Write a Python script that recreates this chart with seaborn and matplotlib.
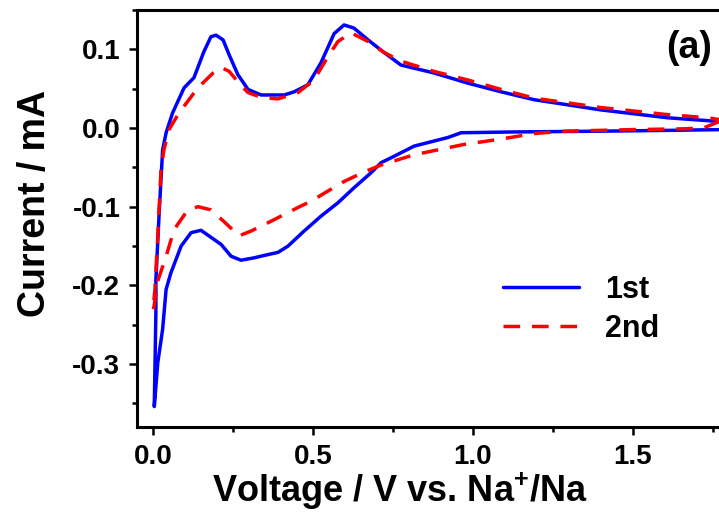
import pandas as pd
import matplotlib
matplotlib.use("Agg")
import matplotlib.pyplot as plt
import numpy as np
import seaborn as sns
from matplotlib.ticker import MultipleLocator

# 1st cycle: cathodic scan (right to left), then anodic scan (left to right)
v1 = [1.78, 1.609, 1.400, 1.128, 0.963, 0.922, 0.816, 0.753, 0.713, 0.681, 0.628,
      0.578, 0.525, 0.472, 0.422, 0.391, 0.347, 0.316, 0.275, 0.244, 0.213, 0.150,
      0.119, 0.088, 0.056, 0.041, 0.030, 0.015, 0.004,
      0.009, 0.009, 0.019, 0.030, 0.041, 0.061, 0.097, 0.128, 0.159, 0.181, 0.197,
      0.219, 0.238, 0.265, 0.297, 0.338, 0.410, 0.441, 0.484, 0.525, 0.566, 0.597,
      0.628, 0.672, 0.722, 0.775, 0.878, 0.984, 1.088, 1.191, 1.400, 1.609, 1.78]
i1 = [-0.002, -0.003, -0.004, -0.005, -0.006, -0.012, -0.023, -0.036, -0.044, -0.057, -0.076,
      -0.095, -0.112, -0.131, -0.150, -0.158, -0.162, -0.165, -0.168, -0.163, -0.148, -0.130,
      -0.133, -0.150, -0.184, -0.205, -0.256, -0.298, -0.354,
      -0.235, -0.193, -0.110, -0.028, -0.006, 0.019, 0.051, 0.064, 0.097, 0.116, 0.118,
      0.112, 0.093, 0.068, 0.049, 0.042, 0.042, 0.046, 0.055, 0.083, 0.120, 0.131,
      0.127, 0.112, 0.096, 0.080, 0.070, 0.057, 0.046, 0.036, 0.023, 0.013, 0.008]

# 2nd cycle
v2 = [1.78, 1.72, 1.66, 1.50, 1.29, 1.19, 1.088, 0.97, 0.816, 0.713, 0.659, 0.597,
      0.547, 0.494, 0.453, 0.400, 0.347, 0.306, 0.269, 0.222, 0.181, 0.141, 0.109,
      0.066, 0.041, 0.016, 0.003, 0.0,
      0.006, 0.016, 0.025, 0.034, 0.050, 0.081, 0.140, 0.188, 0.213, 0.238, 0.269,
      0.297, 0.338, 0.390, 0.453, 0.503, 0.547, 0.578, 0.619, 0.672, 0.722, 0.775,
      0.878, 0.984, 1.088, 1.191, 1.400, 1.609, 1.734, 1.78]
i2 = [0.010, 0.000, -0.001, -0.002, -0.004, -0.007, -0.014, -0.021, -0.034, -0.047, -0.056, -0.068,
      -0.080, -0.093, -0.101, -0.112, -0.123, -0.131, -0.137, -0.119, -0.104, -0.100, -0.104,
      -0.129, -0.163, -0.193, -0.227, -0.232,
      -0.205, -0.129, -0.053, -0.028, -0.002, 0.019, 0.051, 0.070, 0.077, 0.072, 0.057,
      0.045, 0.039, 0.037, 0.045, 0.061, 0.091, 0.110, 0.121, 0.110, 0.096, 0.085,
      0.072, 0.061, 0.049, 0.038, 0.026, 0.017, 0.013, 0.010]

cyc1 = pd.DataFrame({"v": v1, "i": i1})
cyc2 = pd.DataFrame({"v": v2, "i": i2})

sns.set_style("ticks")
plt.rcParams["font.family"] = ["Liberation Sans", "DejaVu Sans"]
plt.rcParams["font.weight"] = "bold"
plt.rcParams["text.color"] = "black"
plt.rcParams["axes.labelcolor"] = "black"
plt.rcParams["axes.edgecolor"] = "black"
plt.rcParams["xtick.color"] = "black"
plt.rcParams["ytick.color"] = "black"
plt.rcParams["mathtext.fontset"] = "custom"
plt.rcParams["mathtext.rm"] = "Liberation Sans:bold"
plt.rcParams["mathtext.bf"] = "Liberation Sans:bold"
plt.rcParams["mathtext.default"] = "bf"

fig = plt.figure(figsize=(7.19, 5.14), dpi=100)
ax = fig.add_axes([137 / 719, 87 / 514, 592 / 719, 417 / 514])

sns.lineplot(data=cyc1, x="v", y="i", sort=False, estimator=None, color="#0000ff",
             lw=2.5, label="1st", ax=ax)
sns.lineplot(data=cyc2, x="v", y="i", sort=False, estimator=None, color="#ff0000",
             lw=2.5, label="2nd", ax=ax)
ax.lines[1].set_dashes((4.8, 3.4))

ax.set_xlim(-0.05, 1.8)
ax.set_ylim(-0.38, 0.15)
ax.xaxis.set_major_locator(MultipleLocator(0.5))
ax.xaxis.set_minor_locator(MultipleLocator(0.25))
ax.yaxis.set_major_locator(MultipleLocator(0.1))
ax.yaxis.set_minor_locator(MultipleLocator(0.05))
ax.xaxis.set_major_formatter(plt.FuncFormatter(lambda x, p: f"{x:.1f}"))
ax.yaxis.set_major_formatter(plt.FuncFormatter(lambda y, p: f"{y:.1f}" if y > -0.35 else ""))

ax.tick_params(which="major", direction="out", length=6, width=1.8, labelsize=20, pad=6,
               colors="black")
ax.tick_params(which="minor", direction="out", length=3.5, width=1.8, colors="black")
for s in ax.spines.values():
    s.set_linewidth(2.2)
    s.set_color("black")
ax.spines["right"].set_visible(False)

ax.set_xlabel("Voltage / V vs. Na$^{+}$/Na", fontsize=26, fontweight="bold")
ax.set_ylabel("Current / mA", fontsize=27, fontweight="bold")
ax.xaxis.label.set_va("baseline")
ax.xaxis.set_label_coords(0.444, -0.18)
ax.yaxis.set_label_coords(-0.142, 0.537)

ax.legend(loc="upper left", bbox_to_anchor=(503 / 719, 1 - 275 / 514),
          bbox_transform=fig.transFigure, frameon=False, fontsize=22,
          handlelength=2.5, handletextpad=0.85, labelspacing=0.3,
          borderpad=0, borderaxespad=0)

fig.text(712 / 719, 1 - 48 / 514, "(a)", ha="right", va="center", fontsize=27,
         fontweight="bold")

fig.savefig("out.png", dpi=100)
